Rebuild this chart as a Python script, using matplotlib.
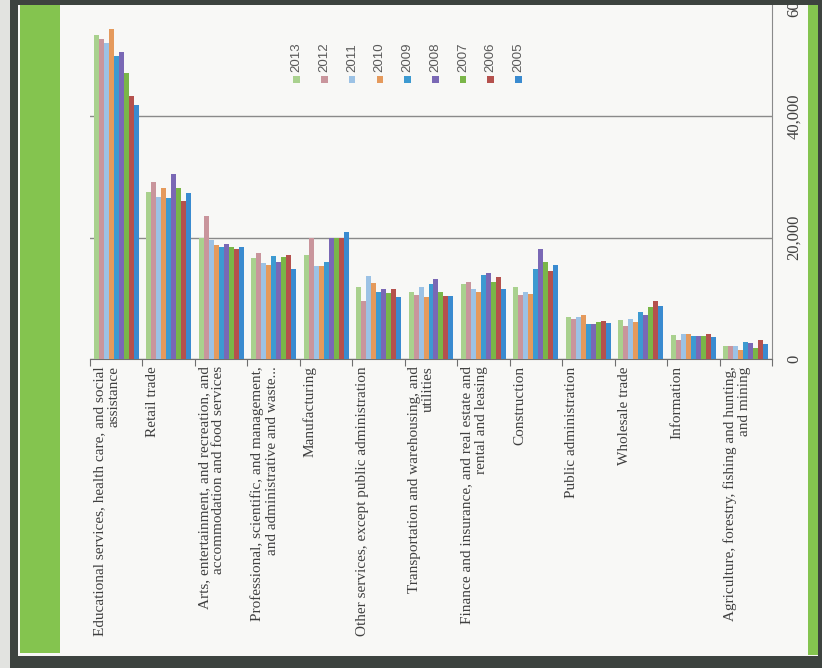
import matplotlib
matplotlib.use("Agg")
import matplotlib.pyplot as plt
from matplotlib.patches import Rectangle
from matplotlib import transforms
import numpy as np

categories = [
    "Educational services, health care, and social\nassistance",
    "Retail trade",
    "Arts, entertainment, and recreation, and\naccommodation and food services",
    "Professional, scientific, and management,\nand administrative and waste...",
    "Manufacturing",
    "Other services, except public administration",
    "Transportation and warehousing, and\nutilities",
    "Finance and insurance, and real estate and\nrental and leasing",
    "Construction",
    "Public administration",
    "Wholesale trade",
    "Information",
    "Agriculture, forestry, fishing and hunting,\nand mining",
]

years = ["2013", "2012", "2011", "2010", "2009", "2008", "2007", "2006", "2005"]

y2013 = [53300, 27400, 20000, 16700, 17100, 11800, 11100, 12400, 11800, 7000, 6500, 4000, 2200]
y2012 = [52600, 29200, 23500, 17400, 19900, 9600, 10600, 12700, 10500, 6700, 5400, 3200, 2200]
y2011 = [52000, 26600, 19600, 15800, 15300, 13700, 11800, 11500, 11100, 7000, 6700, 4200, 2200]
y2010 = [54300, 28200, 18700, 15500, 15300, 12600, 10300, 11000, 10800, 7200, 6200, 4200, 1500]
y2009 = [49800, 26500, 18500, 17000, 15900, 11000, 12300, 13800, 14900, 5800, 7700, 3800, 2900]
y2008 = [50500, 30400, 19000, 16000, 19900, 11500, 13200, 14200, 18100, 5800, 7300, 3900, 2600]
y2007 = [47100, 28200, 18500, 16800, 20000, 10900, 11000, 12700, 16000, 6100, 8600, 3800, 1900]
y2006 = [43300, 26000, 18100, 17100, 19900, 11500, 10400, 13500, 14500, 6300, 9600, 4100, 3200]
y2005 = [41800, 27300, 18500, 14800, 20900, 10300, 10400, 11500, 15500, 5900, 8800, 3600, 2500]

series = [y2013, y2012, y2011, y2010, y2009, y2008, y2007, y2006, y2005]
colors = ["#a9d18e", "#c9959c", "#9cc2e5", "#e59a5c", "#3d9ad1",
          "#7a68b5", "#7ab648", "#b5514d", "#3a8bd0"]

value_ticks = [0, 20000, 40000, 60000]

W, H = 822, 668
fig = plt.figure(figsize=(W / 100, H / 100), dpi=100, facecolor="#f8f8f6")


def add_box(x0, y0, x1, y1, color):
    # pixel box (top-left origin) drawn in figure space
    fig.add_artist(Rectangle((x0 / W, 1 - y1 / H), (x1 - x0) / W, (y1 - y0) / H,
                             transform=fig.transFigure, color=color, lw=0, zorder=5))


# page frame
add_box(0, 0, 10, H, "#e2e3e0")
add_box(10, 0, W, 5, "#3d433f")
add_box(10, 0, 18, H, "#3d433f")
add_box(10, 656, W, H, "#3d433f")
add_box(818, 0, W, H, "#3d433f")
add_box(20, 5, 60, 653, "#84c44f")
add_box(808, 5, 818, 655, "#84c44f")

# axes: original horizontal chart turned a quarter turn
ax_left, ax_right, ax_bottom, ax_top = 90, 772, 359.3, -6
ax = fig.add_axes([ax_left / W, 1 - ax_bottom / H,
                   (ax_right - ax_left) / W, (ax_bottom - ax_top) / H])
ax.set_facecolor("none")

x = np.arange(len(categories))
w = 0.095
for j, (vals, col) in enumerate(zip(series, colors)):
    ax.bar(x + (j - 4) * w, vals, w, color=col, zorder=3)

ax.set_xlim(-0.5, len(categories) - 0.5)
ax.set_ylim(0, 60000)

for s in ["top", "left"]:
    ax.spines[s].set_visible(False)
ax.spines["bottom"].set_color("#6f6f6f")
ax.spines["right"].set_color("#8a8a8a")

ax.set_xticks(np.arange(len(categories) + 1) - 0.5)
ax.set_xticklabels([])
ax.tick_params(axis="x", direction="out", length=5, color="#6f6f6f")

ax.yaxis.tick_right()
ax.set_yticks(value_ticks)
ax.set_yticklabels([f"{v:,}" for v in value_ticks], rotation=90,
                   family="Liberation Serif", fontsize=12, color="#404040",
                   va="center")
ax.tick_params(axis="y", length=0, pad=10)
ax.grid(True, axis="y", color="#8a8a8a", lw=1, zorder=0)

lab_tr = transforms.offset_copy(ax.transData, fig=fig, x=-23, y=-7, units="dots")
for i, lab in enumerate(categories):
    ax.text(i, 0, lab, transform=lab_tr, rotation=90, ha="left", va="top",
            multialignment="right", family="Liberation Serif", fontsize=11,
            color="#3f3f3f", linespacing=1.12, clip_on=False)

# legend, one rotated entry per year
for j, (yr, col) in enumerate(zip(years, colors)):
    cx = 296.7 + 27.7 * j
    add_box(cx - 3.3, 76, cx + 3.3, 82.6, col)
    fig.text(cx / W, 1 - 72 / H, yr, rotation=90, ha="center", va="bottom",
             family="Liberation Sans", fontsize=9.5, color="#595959")

fig.savefig("out.png", dpi=100, facecolor=fig.get_facecolor())
